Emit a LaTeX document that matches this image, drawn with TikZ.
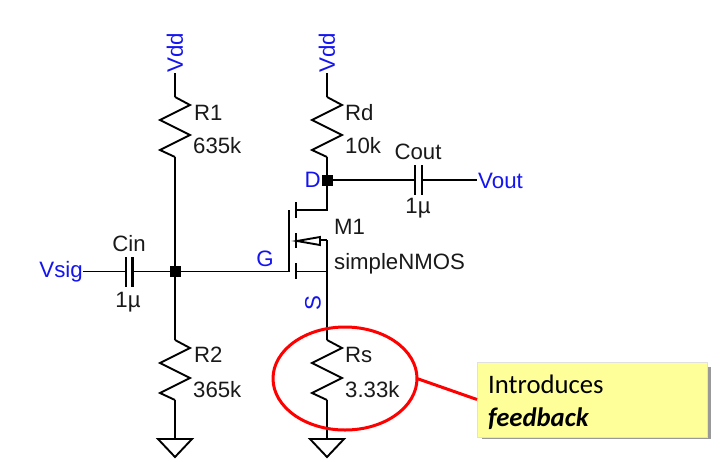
\documentclass[tikz,border=0pt]{standalone}
\usepackage{fontspec}
\setmainfont{Liberation Sans}
\newfontfamily\notefont{Carlito}
\usetikzlibrary{positioning, shapes.geometric}
\definecolor{netblue}{RGB}{20,20,240}
\definecolor{noteyellow}{RGB}{255,255,153}
\tikzset{
  wire/.style={draw=black, line width=1.9pt},
  plate/.style={draw=black, line width=2.4pt},
  junction/.style={fill=black, minimum size=11pt, inner sep=0pt, outer sep=0pt},
  partlabel/.style={font=\fontsize{22.2}{24}\selectfont, text=black!90, inner sep=0pt},
  netlabel/.style={font=\fontsize{22.3}{24}\selectfont, text=netblue, inner sep=0pt},
  groundsym/.style={draw=black, line width=1.9pt, line join=miter},
}

\begin{document}
\begin{tikzpicture}[x=1pt, y=-1pt]
  \useasboundingbox (0,0) rectangle (722,461);

  % Nets and junctions
  \coordinate (vddA) at (175,73);
  \coordinate (vddB) at (327,73);
  \coordinate (sigin) at (83,271.5);
  \coordinate (voutend) at (477,180);
  \node[junction] (gatenet) at (175,271.5) {};
  \node[junction] (drainnet) at (327,180) {};

  % Resistors R1, Rd, R2, Rs
  \foreach \rname/\rx/\ry in {rone/175/97, rd/327/97, rtwo/175/340, rs/327/340} {
    \coordinate (\rname-top) at (\rx,\ry);
    \coordinate (\rname-bot) at (\rx,\ry+60);
    \draw[wire, line join=miter] (\rname-top) -- ++(15,8) -- ++(-30,15) -- ++(30,15)
      -- ++(-30,15) -- (\rname-bot);
  }
  \draw[wire] (vddA) -- (rone-top);
  \draw[wire] (vddB) -- (rd-top);
  \draw[wire] (rone-bot) -- (gatenet);
  \draw[wire] (gatenet) -- (rtwo-top);
  \draw[wire] (rd-bot) -- (drainnet);

  % Grounds
  \foreach \gname/\gx/\gnet in {gndA/175/rtwo-bot, gndB/327/rs-bot} {
    \coordinate (\gname) at (\gx,439);
    \draw[wire] (\gnet) -- (\gname);
    \draw[groundsym] (\gx-17,439) -- (\gx+17,439) -- (\gx,457) -- cycle;
  }

  % Cin
  \coordinate (cinL) at (126,271.5);
  \coordinate (cinR) at (132.5,271.5);
  \draw[wire] (sigin) -- (cinL);
  \draw[wire] (cinR) -- (gatenet);
  \draw[plate] (126,257) -- (126,287);
  \draw[plate] (132.5,257) -- (132.5,287);

  % Cout
  \coordinate (coutL) at (415,180);
  \coordinate (coutR) at (422,180);
  \draw[wire] (drainnet) -- (coutL);
  \draw[wire] (coutR) -- (voutend);
  \draw[plate] (415,165) -- (415,195);
  \draw[plate] (422,165) -- (422,195);

  % M1
  \coordinate (gateplate) at (289,271.5);
  \coordinate (draintap) at (296,210);
  \coordinate (sourcetap) at (296,271.5);
  \coordinate (bulktap) at (327,240);
  \draw[wire] (gatenet) -- (gateplate);
  \draw[plate] (289,210) -- (289,272);
  \draw[plate] (296,202) -- (296,218);
  \draw[plate] (296,233) -- (296,248);
  \draw[plate] (296,263) -- (296,279);
  \draw[wire] (drainnet) |- (draintap);
  \draw[wire] (rs-top) |- (sourcetap);
  \draw[wire] (bulktap) -- (327,271.5);
  \draw[wire] (bulktap) -- (320,240);
  \draw[wire, line join=miter] (297,241) -- (320,237) -- (320,245) -- cycle;

  % Part labels
  \node[partlabel, anchor=west] (lblRone) at (194,113) {R1};
  \node[partlabel, anchor=west] (valRone) at (193,146) {635k};
  \node[partlabel, anchor=west] (lblRtwo) at (194,355) {R2};
  \node[partlabel, anchor=west] (valRtwo) at (193,390) {365k};
  \node[partlabel, anchor=west] (lblRd) at (345,113) {Rd};
  \node[partlabel, anchor=west] (valRd) at (345,146) {10k};
  \node[partlabel, anchor=west] (lblRs) at (345,355) {Rs};
  \node[partlabel, anchor=west] (valRs) at (345,390) {3.33k};
  \node[partlabel] (lblCin) at (129,244) {Cin};
  \node[partlabel] (valCin) at (128,302) {1µ};
  \node[partlabel] (lblCout) at (418,152) {Cout};
  \node[partlabel] (valCout) at (418,208) {1µ};
  \node[partlabel, anchor=west] (lblM) at (334,227) {M1};
  \node[partlabel, anchor=west] (valM) at (334,264) {simpleNMOS};

  % Net labels
  \node[netlabel, rotate=90, anchor=west] (lblVddA) at (175,73) {Vdd};
  \node[netlabel, rotate=90, anchor=west] (lblVddB) at (327,73) {Vdd};
  \node[netlabel, anchor=east] (lblVsig) at (83,272) {Vsig};
  \node[netlabel, anchor=west] (lblVout) at (478,181) {Vout};
  \node[netlabel, anchor=east] (lblD) at (321,180) {D};
  \node[netlabel] (lblG) at (265,259) {G};
  \node[netlabel, rotate=90] (lblS) at (313,303) {S};

  % Feedback callout
  \fill[black!40] (482,367) rectangle (711,439);
  \node[draw=black!12, fill=noteyellow, minimum width=230pt, minimum height=75pt, inner sep=0pt, outer sep=0pt] (note) at (592,399.5) {};
  \node[anchor=west, inner sep=0pt, align=left, font=\notefont\fontsize{26.7}{33}\selectfont] (notetext) at (488,402) {Introduces\\\textbf{\textit{feedback}}};
  \node[ellipse, draw=red, line width=3pt, minimum width=144pt, minimum height=103pt, inner sep=0pt, outer sep=0pt] (fbring) at (345,378.5) {};
  \draw[red, line width=3pt] (fbring.east) -- (note.west);
\end{tikzpicture}
\end{document}
